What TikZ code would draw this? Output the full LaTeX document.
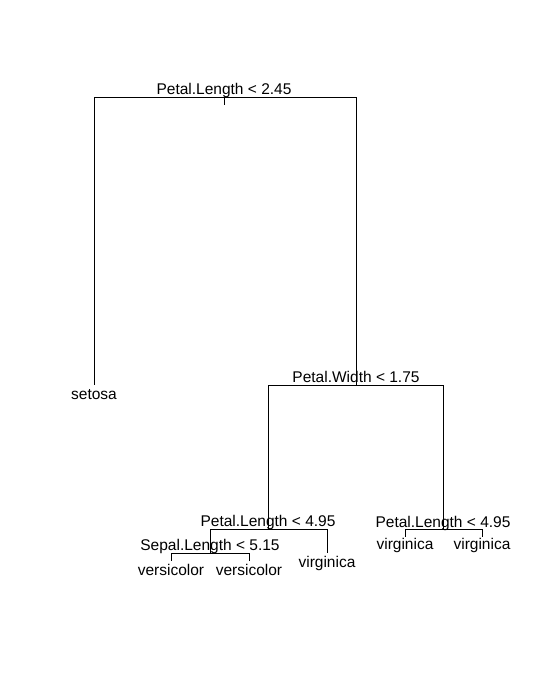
\documentclass[tikz,border=0pt]{standalone}
\usepackage{fontspec}
\setmainfont{Liberation Sans}
\usetikzlibrary{calc}
\usetikzlibrary{positioning}

\begin{document}
\begin{tikzpicture}[
  x=1pt, y=-1pt,
  every node/.style={font=\fontsize{15.5}{18}\selectfont, inner sep=0pt},
  branch/.style = {draw, line width=1pt},
  cond/.style = {anchor=base},
  leaf/.style = {anchor=base}
  ]
	\useasboundingbox (0,0) rectangle (538,677);

	% split points and leaf ends
	\coordinate (n1) at (224,97);
	\coordinate (n2) at (94,385);
	\coordinate (n3) at (356,385);
	\coordinate (n6) at (268,529);
	\coordinate (n7) at (443,529.5);
	\coordinate (n12) at (210,553);
	\coordinate (n13) at (327,553);
	\coordinate (n14) at (405,537);
	\coordinate (n15) at (482,537);
	\coordinate (n24) at (171,561);
	\coordinate (n25) at (249,561);

	% split labels
	\node[cond] (c1) at ($(n1)+(0,-2.5)$) {Petal.Length < 2.45};
	\node[cond] (c3) at ($(n3)+(0,-2.5)$) {Petal.Width < 1.75};
	\node[cond] (c6) at ($(n6)+(0,-2.5)$) {Petal.Length < 4.95};
	\node[cond] (c7) at ($(n7)+(0,-2.5)$) {Petal.Length < 4.95};
	\node[cond] (c12) at ($(n12)+(0,-2.5)$) {Sepal.Length < 5.15};

	% leaf labels
	\node[leaf] (l2) at ($(n2)+(0,14.5)$) {setosa};
	\node[leaf] (l13) at ($(n13)+(0,14.5)$) {virginica};
	\node[leaf] (l14) at ($(n14)+(0,12.5)$) {virginica};
	\node[leaf] (l15) at ($(n15)+(0,12.5)$) {virginica};
	\node[leaf] (l24) at ($(n24)+(0,14.5)$) {versicolor};
	\node[leaf] (l25) at ($(n25)+(0,14.5)$) {versicolor};

	\draw[branch] (n1) -- ++(0,8);
	\draw[branch] (n1) -| (n2);
	\draw[branch] (n1) -| (n3);
	\draw[branch] (n3) -| (n6);
	\draw[branch] (n3) -| (n7);
	\draw[branch] (n6) -| (n12);
	\draw[branch] (n6) -| (n13);
	\draw[branch] (n7) -| (n14);
	\draw[branch] (n7) -| (n15);
	\draw[branch] (n12) -| (n24);
	\draw[branch] (n12) -| (n25);

\end{tikzpicture}
\end{document}
